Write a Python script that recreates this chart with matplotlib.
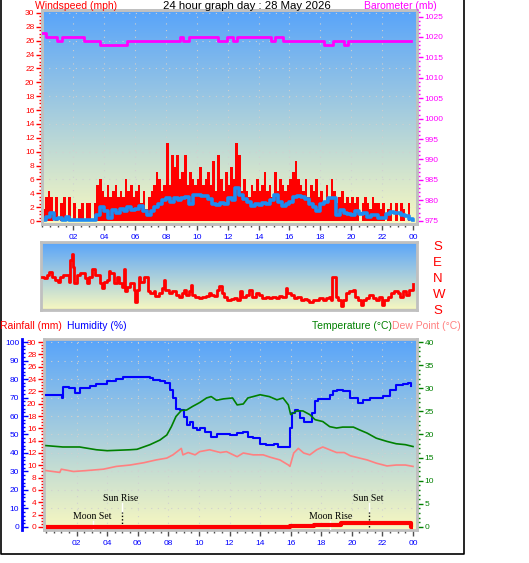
import numpy as np
import matplotlib
matplotlib.use('Agg')
import matplotlib.pyplot as plt
from matplotlib.lines import Line2D
from matplotlib.ticker import MultipleLocator, FixedLocator

plt.rcParams['font.family'] = ['Liberation Sans', 'DejaVu Sans']

# ---------------- data ----------------
# wind gust (mph), 10-minute samples from 00:00
gust = [
    1.7, 3.5, 4.4, 3.5, 0, 3.5,
    0, 2.6, 3.5, 0, 3.5, 0,
    2.6, 0, 1.7, 2.6, 0, 2.6,
    2.6, 0, 2.6, 5.2, 6.1, 4.4,
    3.5, 5.2, 3.5, 4.4, 5.2, 3.5,
    4.4, 3.5, 6.1, 4.4, 5.2, 3.5,
    4.4, 5.2, 2.6, 4.4, 1.7, 3.5,
    4.4, 5.2, 7.0, 6.1, 4.4, 5.2,
    11.3, 5.2, 9.5, 7.8, 9.5, 6.1,
    7.0, 9.5, 5.2, 7.0, 6.1, 5.2,
    6.1, 7.8, 5.2, 6.1, 7.0, 5.2,
    8.7, 4.4, 9.5, 6.1, 4.4, 7.0,
    5.2, 7.8, 6.1, 11.3, 9.5, 4.4,
    6.1, 4.4, 3.5, 5.2, 4.4, 6.1,
    4.4, 5.2, 7.0, 4.4, 5.2, 3.5,
    7.0, 4.4, 6.1, 5.2, 4.4, 5.2,
    6.1, 7.0, 8.7, 6.1, 5.2, 4.4,
    6.1, 3.5, 5.2, 4.4, 6.1, 3.5,
    4.4, 2.6, 5.2, 3.5, 6.1, 4.4,
    2.6, 3.5, 4.4, 2.6, 3.5, 2.6,
    3.5, 2.6, 3.5, 0, 2.6, 3.5,
    2.6, 1.7, 3.5, 2.6, 2.6, 1.7,
    2.6, 0, 1.7, 2.6, 0, 2.6,
    0, 2.6, 1.7, 0, 2.6, 0,
]
gust_hours = [i / 6 for i in range(len(gust))]

# average wind speed (mph), 15-minute samples
wind_avg = [
    0.2, 0.6, 1.2, 0.3, 0.4, 0.1, 0.6, 0.2,
    0.1, 0.1, 0.1, 0.1, 0.1, 0.1, 0.8, 2.0,
    1.5, 0.4, 1.6, 1.2, 1.7, 1.5, 2.0, 1.6,
    1.8, 2.1, 1.4, 0.8, 1.5, 2.0, 2.5, 3.0,
    3.3, 2.8, 3.3, 3.1, 3.3, 3.4, 2.5, 3.7,
    3.8, 3.6, 3.6, 3.2, 2.5, 2.3, 2.6, 2.4,
    3.3, 3.0, 4.7, 3.8, 3.2, 2.8, 2.2, 2.5,
    2.3, 2.6, 2.5, 3.0, 3.8, 2.8, 2.2, 2.4,
    2.8, 3.4, 3.6, 3.4, 3.2, 2.5, 2.0, 1.5,
    2.5, 2.8, 3.3, 3.3, 0.8, 1.6, 1.2, 1.0,
    0.8, 1.4, 1.0, 1.2, 0.6, 0.9, 0.8, 0.5,
    0.5, 1.0, 1.3, 1.1, 1.2, 0.9, 0.7, 0.3, 0.2,
]
avg_hours = [i / 4 for i in range(len(wind_avg))]

# barometer (mb), change times in hours
baro_hours = [0.0, 0.25, 0.95, 1.27, 2.71, 3.7, 5.47, 8.93, 9.1, 9.46, 11.4,
              11.95, 12.34, 12.63, 14.8, 15.07, 15.57, 18.25, 18.8, 19.5, 19.82, 23.9]
baro = [1021, 1020, 1019, 1020, 1019, 1018, 1019, 1020, 1019, 1020, 1019,
        1020, 1019, 1020, 1019, 1020, 1019, 1018, 1019, 1018, 1019, 1019]

# wind direction (degrees, W = -90, E = 90, S = +/-180)
dir_hours = [0.02, 0.19, 0.35, 0.50, 0.67, 0.89, 1.10, 1.21, 1.42, 1.64, 1.75, 1.86, 1.96,
             2.03, 2.12, 2.29, 2.50, 2.66, 2.83, 2.94, 3.04, 3.26, 3.48, 3.69, 3.80, 3.91,
             4.02, 4.23, 4.34, 4.45, 4.66, 4.88, 5.03, 5.20, 5.31, 5.42, 5.53, 5.74, 5.96,
             6.07, 6.17, 6.28, 6.39, 6.61, 6.76, 6.89, 7.04, 7.25, 7.36, 7.58, 7.79, 7.90,
             8.01, 8.23, 8.44, 8.66, 8.87, 9.09, 9.20, 9.31, 9.52, 9.63, 9.74, 9.95, 10.17,
             10.38, 10.60, 10.82, 10.92, 11.14, 11.36, 11.46, 11.64, 11.79, 12.00, 12.22,
             12.44, 12.65, 12.80, 12.98, 13.19, 13.41, 13.62, 13.84, 14.05, 14.27, 14.49,
             14.70, 14.92, 15.13, 15.35, 15.57, 15.78, 15.89, 16.11, 16.32, 16.54, 16.75,
             16.97, 17.18, 17.29, 17.51, 17.73, 17.94, 18.16, 18.37, 18.59, 18.70, 18.80,
             18.91, 19.02, 19.13, 19.34, 19.45, 19.67, 19.88, 20.10, 20.27, 20.42, 20.64,
             20.75, 20.96, 21.18, 21.40, 21.61, 21.83, 22.00, 22.15, 22.37, 22.58, 22.80,
             23.01, 23.16, 23.34, 23.55, 23.77, 23.99]
direction = [5, -5, 14, 32, 5, -14, -23, 5, 14, 14, -23, 97, 130,
             60, -32, 14, 23, 27, -5, -32, 5, 45, 14, 14, -32, -60,
             -23, -14, 38, 23, -32, 5, -32, -51, 45, -78, -51, -32, -69,
             -134, -69, 5, -23, 5, 5, -78, -88, -78, -102, -88, -60, -14,
             -69, -88, -78, -97, -106, -88, -69, -97, -78, -42, -97, -106, -115,
             -106, -102, -88, -97, -102, -69, -47, -88, -106, -125, -121,
             -115, -125, -78, -106, -97, -69, -106, -88, -97, -115, -106,
             -115, -106, -115, -102, -110, -60, -88, -97, -115, -106, -125,
             -121, -125, -139, -125, -128, -115, -125, -115, -106, -125, 5,
             5, -106, -125, -158, -125, -88, -78, -69, -106, -125, -152,
             -125, -115, -97, -115, -125, -106, -152, -125, -106, -88, -78,
             -84, -106, -78, -97, -69, -38]

# humidity (%)
hum_hours = [0.0, 1.0, 1.02, 1.1, 1.5, 1.9, 2.2, 2.85, 3.3, 4.0, 4.6, 5.05, 5.5, 6.2, 6.8,
             7.0, 7.45, 7.8, 8.1, 8.3, 8.5, 8.75, 9.0, 9.2, 9.4, 9.6, 9.85, 10.1, 10.4,
             10.8, 11.15, 12.0, 12.5, 12.9, 13.2, 13.55, 14.0, 14.4, 14.9, 15.2, 15.85,
             15.95, 16.06, 16.3, 16.5, 16.6, 16.9, 17.2, 17.4, 17.6, 17.8, 18.3, 18.55,
             18.8, 19.0, 19.4, 19.9, 20.4, 20.7, 21.2, 21.6, 22.05, 22.5, 22.9, 23.35,
             23.7, 23.9]
humidity = [71.5, 71.5, 69.7, 75.6, 75.0, 72.7, 75.0, 76.0, 77.3, 78.7, 80.0, 81.0, 81.2,
            81.0, 80.8, 79.2, 78.7, 77.8, 74.0, 69.7, 63.7, 63.0, 59.4, 55.2, 57.0,
            53.4, 52.5, 53.4, 51.6, 48.6, 50.4, 49.8, 50.7, 51.6, 48.9, 48.0, 45.0,
            44.5, 45.0, 43.5, 43.5, 53.4, 61.6, 63.4, 62.5, 58.8, 56.5, 56.5, 61.6,
            67.9, 69.3, 69.3, 71.5, 73.3, 74.2, 73.3, 69.7, 67.3, 68.8, 69.7, 69.7,
            70.6, 74.2, 76.9, 77.3, 77.8, 76.0]

# temperature (deg C)
temp_hours = [0.0, 1.1, 2.2, 3.3, 4.0, 5.5, 5.95, 6.8, 7.45, 7.9, 8.2, 8.5, 8.85, 9.2,
              9.6, 10.05, 10.5, 10.8, 11.15, 11.6, 12.2, 12.5, 12.9, 13.2, 14.0, 14.6,
              15.1, 15.5, 15.85, 16.0, 16.4, 16.8, 17.25, 17.6, 18.1, 18.55, 19.0, 19.4,
              20.1, 20.5, 21.0, 21.6, 22.3, 22.9, 23.5, 24.0]
temperature = [17.6, 17.3, 17.3, 16.7, 16.5, 16.7, 16.8, 17.8, 18.8, 19.9, 21.7, 23.9,
               25.2, 25.3, 26.1, 26.9, 27.9, 28.2, 27.4, 27.7, 27.9, 26.4, 26.6, 27.9,
               28.6, 28.2, 27.5, 27.9, 26.4, 24.3, 25.1, 25.1, 24.3, 23.2, 22.8, 21.7,
               21.4, 21.6, 21.6, 21.0, 20.3, 19.2, 18.5, 18.0, 17.8, 17.4]

# dew point (deg C)
dew_hours = [0.0, 0.9, 1.0, 1.8, 2.65, 3.75, 4.6, 5.5, 6.4, 7.2, 7.9, 8.3, 8.85, 8.95,
             9.3, 9.75, 10.05, 10.7, 11.4, 11.8, 12.5, 12.9, 13.55, 14.2, 14.65, 15.3,
             15.85, 15.95, 16.2, 16.5, 16.85, 17.25, 17.7, 18.1, 18.55, 19.0, 19.5, 19.9,
             20.5, 21.0, 21.6, 22.3, 22.9, 23.5, 24.0]
dew_point = [12.2, 11.8, 12.5, 12.0, 12.2, 12.5, 13.1, 13.4, 13.9, 14.5, 14.9, 15.6,
             17.0, 15.6, 16.1, 15.6, 16.3, 16.7, 16.1, 16.3, 15.2, 16.0, 15.6, 15.6,
             15.1, 14.5, 13.4, 13.1, 16.0, 17.0, 16.0, 15.6, 16.7, 17.3, 16.7, 16.1,
             16.1, 15.4, 14.9, 14.5, 13.8, 13.2, 13.4, 13.4, 13.1]

# rainfall (mm), change times in hours
rain_hours = [0.0, 15.95, 17.5, 19.3, 23.9, 24.0]
rain = [0.0, 0.2, 0.4, 0.6, 0.0, 0.0]

# sun / moon events (hours)
event_names = ['Moon Set', 'Sun Rise', 'Moon Rise', 'Sun Set']
event_hours = [3.05, 4.98, 18.58, 21.15]

hour_ticks = list(range(2, 25, 2))
hour_labels = ['%02d' % (h % 24) for h in hour_ticks]

# ---------------- styling ----------------
W, H = 529, 563
PT = 0.72  # points per pixel at 100 dpi
fig = plt.figure(figsize=(W / 100, H / 100), dpi=100)

TOPC = np.array(matplotlib.colors.to_rgb('#58a4fa'))
BOTC = np.array(matplotlib.colors.to_rgb('#f8f8c0'))
BORDER = '#c0c0c0'
GRIDC = '#d0d0d0'
TICKC = '#505050'
FS = 6


def px_axes(l, t, r, b):
    return fig.add_axes([l / W, 1 - b / H, (r - l) / W, (b - t) / H])


def gradient(ax):
    t = np.linspace(0, 1, 256)[:, None]
    img = TOPC * (1 - t) + BOTC * t
    ax.imshow(img[:, None, :], extent=(0, 1, 0, 1), transform=ax.transAxes,
              aspect='auto', zorder=0, interpolation='bilinear')


def frame(ax):
    for s in ax.spines.values():
        s.set_color(BORDER)
        s.set_linewidth(2)


def xaxis(ax, labels=True):
    ax.xaxis.set_major_locator(FixedLocator(hour_ticks))
    ax.xaxis.set_minor_locator(MultipleLocator(0.5))
    ax.set_xticklabels(hour_labels if labels else [])
    ax.tick_params(axis='x', which='major', length=4, width=1, color=TICKC,
                   labelcolor='#0000ff', labelsize=FS, pad=3)
    ax.tick_params(axis='x', which='minor', length=2.5, width=1, color=TICKC)


def ftxt(x, y, s, **kw):
    fig.text(x / W, 1 - y / H, s, **kw)


# ---------- top panel: wind & barometer ----------
ax1 = px_axes(42, 10, 417, 224)
gradient(ax1)
ax1.bar(gust_hours, gust, width=1 / 6, align='edge', color='#ff0000', linewidth=0, zorder=2)
ax1.plot(avg_hours, wind_avg, color='#1e8cf0', lw=2.6, drawstyle='steps-post', zorder=3)
ax1.set_xlim(-0.03, 24.26)
ax1.set_ylim(-0.43, 30.43)
ax1.set_autoscale_on(False)
ax1.yaxis.set_major_locator(MultipleLocator(2))
ax1.yaxis.set_minor_locator(MultipleLocator(0.5))
ax1.tick_params(axis='y', which='major', length=4, width=1, color='#ff0000',
                labelcolor='#ff0000', labelsize=FS, pad=1.5)
ax1.tick_params(axis='y', which='minor', length=2, width=1, color='#ff0000')
xaxis(ax1)
for v in range(2, 31, 4):
    ax1.axhline(v, color=GRIDC, lw=0.8, ls=(0, (1, 5)), zorder=1)
for v in hour_ticks[:-1]:
    ax1.axvline(v, color=GRIDC, lw=0.8, ls=(0, (1, 5)), zorder=1)
frame(ax1)

ax1b = ax1.twinx()
ax1b.plot(baro_hours, baro, color='#ff00ff', lw=2, drawstyle='steps-post', zorder=4)
ax1b.set_ylim(974.2, 1026.6)
ax1b.yaxis.set_major_locator(MultipleLocator(5))
ax1b.yaxis.set_minor_locator(MultipleLocator(1))
ax1b.tick_params(axis='y', which='major', length=4, width=1, color='#ff00ff',
                 labelcolor='#ff00ff', labelsize=FS, pad=1.5)
ax1b.tick_params(axis='y', which='minor', length=2, width=1, color='#ff00ff')
frame(ax1b)

ftxt(35, 6, 'Windspeed (mph)', color='#ff0000', fontsize=7.5, va='center', ha='left')
ftxt(247, 6, '24 hour graph day : 28 May 2026', color='black', fontsize=8.2, va='center', ha='center')
ftxt(437, 6, 'Barometer (mb)', color='#ff00ff', fontsize=7.5, va='center', ha='right')

# ---------- middle panel: wind direction ----------
ax2 = px_axes(41, 242, 417, 310)
gradient(ax2)
ax2.plot(dir_hours, direction, color='#ff0000', lw=2, drawstyle='steps-post', zorder=3)
ax2.set_xlim(-0.03, 24.26)
ax2.set_ylim(-181, 197)
ax2.set_autoscale_on(False)
ax2.set_xticks([])
ax2.yaxis.tick_right()
ax2.set_yticks([180, 90, 0, -90, -180])
ax2.set_yticklabels(['S', 'E', 'N', 'W', 'S'])
ax2.tick_params(axis='y', length=0, labelcolor='#ff0000', labelsize=9.5, pad=16 * PT)
ax2.axhline(-178, color='#c8c8a0', lw=1, zorder=1)
frame(ax2)

# ---------- bottom panel: rain, humidity, temperature, dew point ----------
ax3 = px_axes(44, 339, 417, 530)
gradient(ax3)
ax3.plot(rain_hours, rain, color='#ff0000', lw=3, drawstyle='steps-post', zorder=5,
         solid_capstyle='butt')
ax3.set_xlim(-0.13, 24.26)
ax3.set_ylim(-0.49, 30.49)
ax3.set_autoscale_on(False)
ax3.yaxis.set_major_locator(MultipleLocator(2))
ax3.yaxis.set_minor_locator(MultipleLocator(0.5))
ax3.tick_params(axis='y', which='major', length=4, width=1, color='#ff0000',
                labelcolor='#ff0000', labelsize=FS, pad=1.5)
ax3.tick_params(axis='y', which='minor', length=2, width=1, color='#ff0000')
xaxis(ax3)
for v in hour_ticks[:-1]:
    ax3.axvline(v, color=GRIDC, lw=0.8, ls=(0, (1, 5)), zorder=1)
for v in np.arange(3, 31, 3):
    ax3.axhline(v, color=GRIDC, lw=0.8, ls=(0, (1, 5)), zorder=1)
frame(ax3)

# sun / moon markers
for name, h in zip(event_names, event_hours):
    if name.startswith('Sun'):
        ax3.plot([h, h], [2.5, 3.9], color='white', lw=1, zorder=4)
        ax3.plot([h, h], [0, 2.5], color='black', lw=1, ls=(0, (1, 1.5)), zorder=4)
        ax3.text(h - 0.1, 4.7, name, ha='center', va='center', fontsize=7,
                 family=['Liberation Serif', 'DejaVu Serif'], color='black', zorder=6)
    else:
        ax3.plot([h, h], [-0.5, 0.9], color='white', lw=1, zorder=4)
        ax3.text(h, 1.7, name, ha='center', va='center', fontsize=7,
                 family=['Liberation Serif', 'DejaVu Serif'], color='black', zorder=6)

ax3h = ax3.twinx()
ax3h.plot(hum_hours, humidity, color='#0000ff', lw=1.5, drawstyle='steps-post', zorder=3)
ax3h.set_ylim(-1.63, 101.63)
ax3h.yaxis.set_ticks_position('left')
ax3h.yaxis.set_label_position('left')
ax3h.spines['left'].set_position(('outward', 22 * PT))
ax3h.spines['left'].set_color('#0000ff')
ax3h.spines['left'].set_linewidth(2)
for s in ['right', 'top', 'bottom']:
    ax3h.spines[s].set_visible(False)
ax3h.yaxis.set_major_locator(MultipleLocator(10))
ax3h.yaxis.set_minor_locator(MultipleLocator(2))
ax3h.tick_params(axis='y', which='major', direction='in', length=4, width=1,
                 color='#0000ff', labelcolor='#0000ff', labelsize=FS, pad=2)
ax3h.tick_params(axis='y', which='minor', direction='in', length=2, width=1, color='#0000ff')

ax3t = ax3.twinx()
ax3t.plot(temp_hours, temperature, color='#008000', lw=1.2, zorder=3)
ax3t.plot(dew_hours, dew_point, color='#ff8080', lw=1.2, zorder=2)
ax3t.set_ylim(-0.65, 40.65)
ax3t.yaxis.set_major_locator(MultipleLocator(5))
ax3t.yaxis.set_minor_locator(MultipleLocator(1))
ax3t.tick_params(axis='y', which='major', length=4, width=1, color='#008000',
                 labelcolor='#008000', labelsize=FS, pad=1.5)
ax3t.tick_params(axis='y', which='minor', length=2, width=1, color='#008000')
for s in ['left', 'top', 'bottom']:
    ax3t.spines[s].set_visible(False)
ax3t.spines['right'].set_color(BORDER)
ax3t.spines['right'].set_linewidth(2)

ftxt(0, 326, 'Rainfall (mm)', color='#ff0000', fontsize=7.5, va='center', ha='left')
ftxt(67, 326, 'Humidity (%)', color='#0000ff', fontsize=7.5, va='center', ha='left')
ftxt(392, 326, 'Temperature (\u00b0C)', color='#008000', fontsize=7.5, va='center', ha='right')
ftxt(392, 326, 'Dew Point (\u00b0C)', color='#ff8080', fontsize=7.5, va='center', ha='left')

# outer frame (left, bottom, right)
fx = [0.8 / W, 0.8 / W, 464.5 / W, 464.5 / W]
fy = [1.0, 1 - 554 / H, 1 - 554 / H, 1.0]
fig.add_artist(Line2D(fx, fy, transform=fig.transFigure, color='black', linewidth=1.2))

fig.savefig('out.png', dpi=100)
